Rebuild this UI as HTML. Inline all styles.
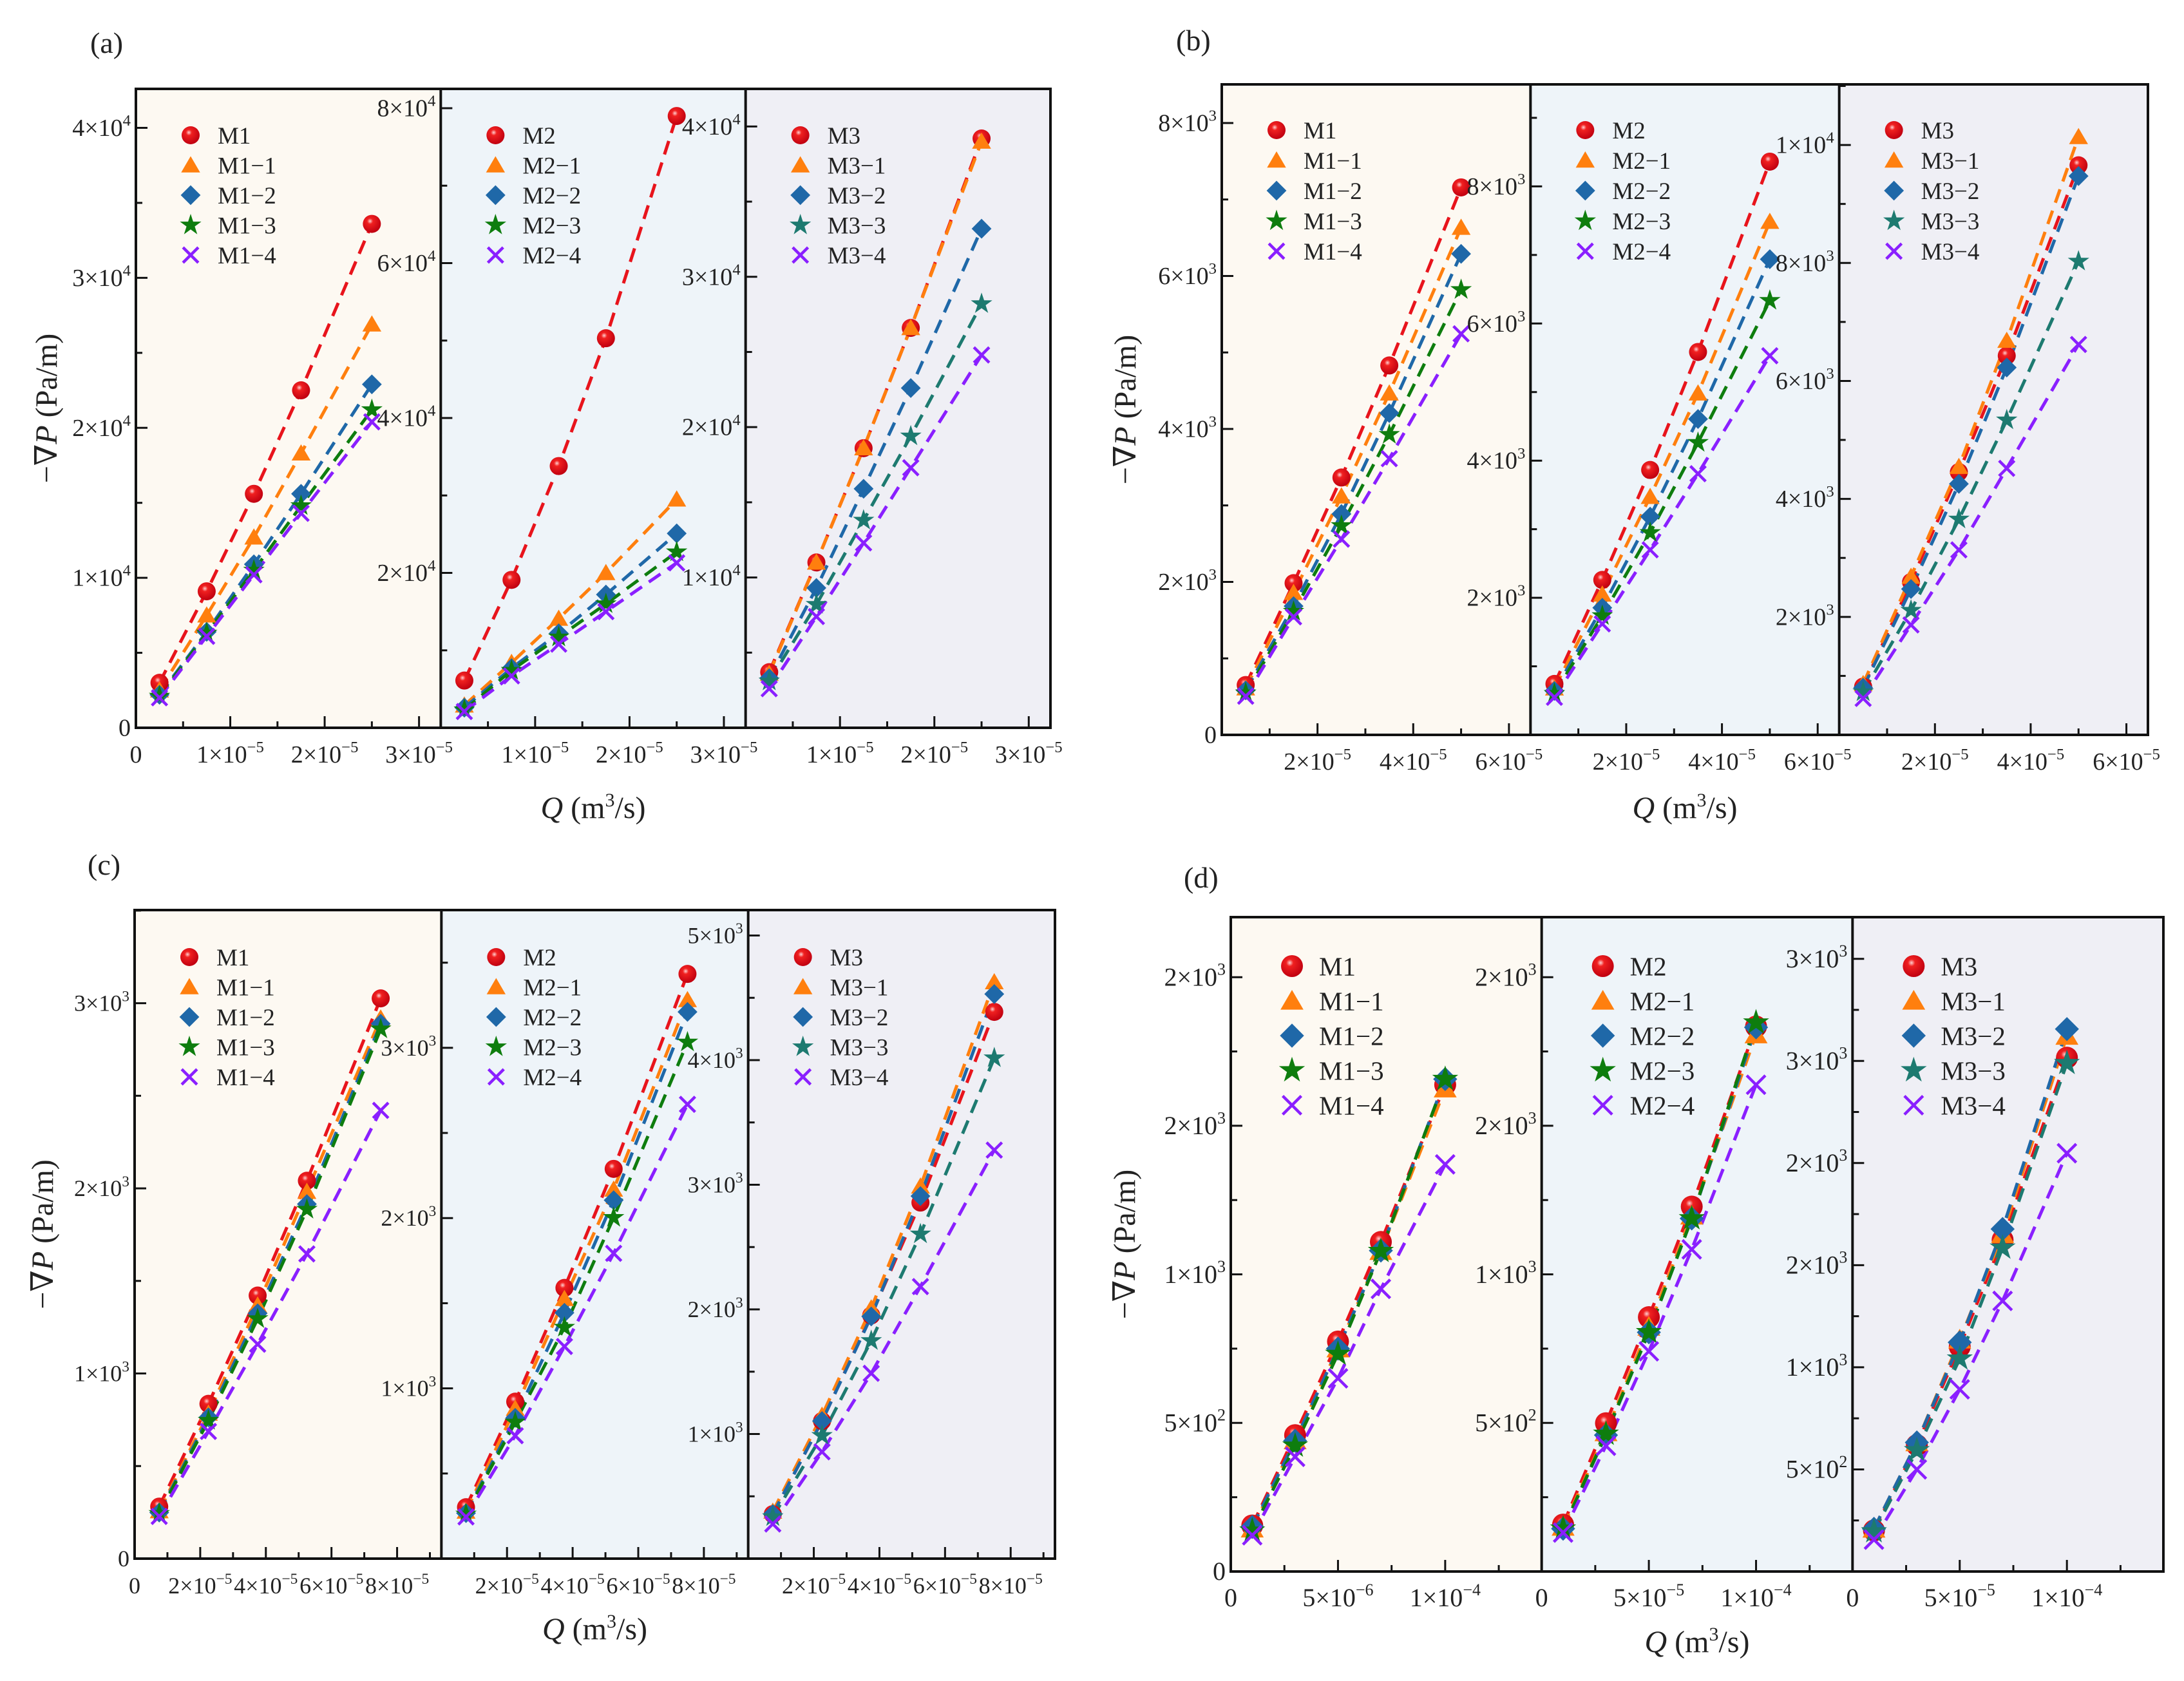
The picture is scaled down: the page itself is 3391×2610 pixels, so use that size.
<!DOCTYPE html>
<html><head><meta charset="utf-8">
<style>
html,body{margin:0;padding:0;background:#fff;}
svg{display:block;font-family:"Liberation Serif","DejaVu Serif",serif;}
</style></head>
<body>
<svg id="fig" width="3391" height="2610" viewBox="0 0 3391 2610" xmlns="http://www.w3.org/2000/svg">
<defs>
<radialGradient id="ballgrad" cx="0.4" cy="0.35" r="0.65">
<stop offset="0" stop-color="#ffd0d0"/><stop offset="0.25" stop-color="#f02020"/><stop offset="1" stop-color="#c00010"/>
</radialGradient>
</defs>
</svg>
<script>
// ---------- DATA ----------
const aX = [2.5e-6, 7.5e-6, 1.25e-5, 1.75e-5, 2.5e-5];
const a1_M1 = [3000, 9100, 15600, 22500, 33600];
const a1_M1_1 = [2500, 7500, 12700, 18300, 26900];
const a1_M1_2 = [2200, 6400, 10900, 15600, 22900];
const a1_M1_3 = [2100, 6300, 10500, 14800, 21200];
const a1_M1_4 = [2000, 6100, 10200, 14300, 20400];
const a2_M2 = [6100, 19100, 33800, 50300, 79000];
const a2_M2_1 = [2900, 8400, 14100, 20000, 29500];
const a2_M2_2 = [2600, 7700, 12200, 17200, 25100];
const a2_M2_3 = [2300, 7400, 11700, 16000, 22700];
const a2_M2_4 = [2100, 6700, 10800, 15000, 21300];
const a3_M3 = [3700, 11000, 18600, 26600, 39200];
const a3_M3_1 = [3600, 11000, 18600, 26600, 39000];
const a3_M3_2 = [3300, 9300, 15900, 22600, 33200];
const a3_M3_3 = [3100, 8200, 13800, 19400, 28200];
const a3_M3_4 = [2600, 7400, 12300, 17300, 24800];

const bX = [5e-6, 1.5e-5, 2.5e-5, 3.5e-5, 5e-5];
const b1_M1 = [652, 1984, 3365, 4830, 7158];
const b1_M1_1 = [610, 1858, 3120, 4466, 6632];
const b1_M1_2 = [582, 1683, 2888, 4207, 6289];
const b1_M1_3 = [547, 1613, 2734, 3926, 5820];
const b1_M1_4 = [505, 1543, 2559, 3611, 5244];
const b2_M2 = [743, 2260, 3864, 5585, 8361];
const b2_M2_1 = [680, 2049, 3473, 4982, 7485];
const b2_M2_2 = [641, 1854, 3183, 4607, 6938];
const b2_M2_3 = [602, 1737, 2949, 4263, 6335];
const b2_M2_4 = [548, 1619, 2699, 3809, 5530];
const b3_M3 = [818, 2591, 4455, 6427, 9655];
const b3_M3_1 = [864, 2682, 4545, 6682, 10136];
const b3_M3_2 = [800, 2473, 4255, 6227, 9473];
const b3_M3_3 = [727, 2109, 3655, 5336, 8027];
const b3_M3_4 = [618, 1864, 3136, 4518, 6618];

const cX = [7.5e-6, 2.25e-5, 3.75e-5, 5.25e-5, 7.5e-5];
const c1_M1 = [281, 836, 1421, 2041, 3026];
const c1_M1_1 = [257, 784, 1368, 1982, 2918];
const c1_M1_2 = [249, 763, 1325, 1915, 2889];
const c1_M1_3 = [243, 746, 1295, 1886, 2860];
const c1_M1_4 = [228, 687, 1158, 1646, 2421];
const c2_M2 = [302, 922, 1590, 2289, 3434];
const c2_M2_1 = [277, 881, 1526, 2168, 3281];
const c2_M2_2 = [267, 827, 1444, 2105, 3211];
const c2_M2_3 = [261, 801, 1358, 2003, 3033];
const c2_M2_4 = [245, 722, 1246, 1793, 2668];
const c3_M3 = [357, 1104, 1952, 2857, 4387];
const c3_M3_1 = [378, 1148, 2009, 2987, 4626];
const c3_M3_2 = [357, 1104, 1943, 2909, 4530];
const c3_M3_3 = [335, 987, 1748, 2604, 4017];
const c3_M3_4 = [278, 857, 1487, 2183, 3278];

const dX = [1e-5, 3e-5, 5e-5, 7e-5, 1e-4];
const d1_M1 = [155, 459, 774, 1109, 1638];
const d1_M1_1 = [144, 441, 750, 1078, 1625];
const d1_M1_2 = [150, 440, 750, 1080, 1657];
const d1_M1_3 = [137, 423, 732, 1078, 1657];
const d1_M1_4 = [122, 386, 650, 951, 1370];
const d2_M2 = [158, 499, 856, 1228, 1834];
const d2_M2_1 = [150, 468, 823, 1197, 1807];
const d2_M2_2 = [144, 459, 805, 1188, 1831];
const d2_M2_3 = [144, 463, 805, 1188, 1847];
const d2_M2_4 = [131, 423, 741, 1084, 1638];
const d3_M3 = [201, 619, 1101, 1624, 2516];
const d3_M3_1 = [209, 632, 1135, 1651, 2622];
const d3_M3_2 = [209, 632, 1122, 1677, 2656];
const d3_M3_3 = [196, 593, 1042, 1585, 2489];
const d3_M3_4 = [156, 500, 892, 1325, 2048];

// tick values & labels
const aXTicks = [0, 1e-5, 2e-5, 3e-5];
const aXLabels = ['0', '1×10^-5', '2×10^-5', '3×10^-5'];
const a1YTicks = [0, 1e4, 2e4, 3e4, 4e4];
const a1YLabels = ['0', '1×10^4', '2×10^4', '3×10^4', '4×10^4'];
const a2YTicks = [2e4, 4e4, 6e4, 8e4];
const a2YLabels = ['2×10^4', '4×10^4', '6×10^4', '8×10^4'];
const a3YTicks = [1e4, 2e4, 3e4, 4e4];
const a3YLabels = ['1×10^4', '2×10^4', '3×10^4', '4×10^4'];

const bXTicks = [2e-5, 4e-5, 6e-5];
const bXLabels = ['2×10^-5', '4×10^-5', '6×10^-5'];
const b1YTicks = [0, 2e3, 4e3, 6e3, 8e3];
const b1YLabels = ['0', '2×10^3', '4×10^3', '6×10^3', '8×10^3'];
const b2YTicks = [2e3, 4e3, 6e3, 8e3];
const b2YLabels = ['2×10^3', '4×10^3', '6×10^3', '8×10^3'];
const b3YTicks = [2e3, 4e3, 6e3, 8e3, 1e4];
const b3YLabels = ['2×10^3', '4×10^3', '6×10^3', '8×10^3', '1×10^4'];

const cXTicks = [0, 2e-5, 4e-5, 6e-5, 8e-5];
const cXLabels = ['0', '2×10^-5', '4×10^-5', '6×10^-5', '8×10^-5'];
const c1YTicks = [0, 1e3, 2e3, 3e3];
const c1YLabels = ['0', '1×10^3', '2×10^3', '3×10^3'];
const c2YTicks = [1e3, 2e3, 3e3];
const c2YLabels = ['1×10^3', '2×10^3', '3×10^3'];
const c3YTicks = [1e3, 2e3, 3e3, 4e3, 5e3];
const c3YLabels = ['1×10^3', '2×10^3', '3×10^3', '4×10^3', '5×10^3'];

const dXTicks = [0, 5e-5, 1e-4];
const d1XLabels = ['0', '5×10^-6', '1×10^-4'];
const d2XLabels = ['0', '5×10^-5', '1×10^-4'];
const d1YTicks = [0, 500, 1000, 1500, 2000];
const d1YLabels = ['0', '5×10^2', '1×10^3', '2×10^3', '2×10^3'];
const d2YTicks = [500, 1000, 1500, 2000];
const d2YLabels = ['5×10^2', '1×10^3', '2×10^3', '2×10^3'];
const d3YTicks = [500, 1000, 1500, 2000, 2500, 3000];
const d3YLabels = ['5×10^2', '1×10^3', '2×10^3', '2×10^3', '3×10^3', '3×10^3'];

// ---------- RENDER ----------
const NS = 'http://www.w3.org/2000/svg';
const svg = document.getElementById('fig');
function mk(tag, attrs, parent) {
  const e = document.createElementNS(NS, tag);
  for (const k in attrs) e.setAttribute(k, attrs[k]);
  (parent || svg).appendChild(e);
  return e;
}
function sciText(str, x, y, size, anchor, parent) {
  const t = mk('text', {x: x, y: y, 'font-size': size, 'text-anchor': anchor, fill: '#222'}, parent);
  const parts = str.split('^');
  t.appendChild(document.createTextNode(parts[0]));
  if (parts.length > 1) {
    const s = mk('tspan', {'font-size': size * 0.65, dy: -size * 0.42}, t);
    s.textContent = parts[1].replace('-', '−');
  }
  return t;
}
const COLORS = ['#e8141c', '#ff7f0e', '#1f68a8', '#0e7d0e', '#8a1fff'];
const TEAL = '#1d7a70';
function marker(kind, x, y, r, color, parent) {
  if (kind === 0) {
    mk('circle', {cx: x, cy: y, r: r, fill: 'url(#ballgrad)'}, parent);
  } else if (kind === 1) {
    mk('polygon', {points: `${x},${y - r} ${x + r * 1.05},${y + r * 0.8} ${x - r * 1.05},${y + r * 0.8}`, fill: color}, parent);
  } else if (kind === 2) {
    mk('polygon', {points: `${x},${y - r * 1.1} ${x + r * 1.1},${y} ${x},${y + r * 1.1} ${x - r * 1.1},${y}`, fill: color}, parent);
  } else if (kind === 3) {
    let pts = [];
    for (let i = 0; i < 10; i++) {
      const rr = i % 2 ? r * 0.48 : r * 1.25;
      const a = -Math.PI / 2 + i * Math.PI / 5;
      pts.push((x + rr * Math.cos(a)).toFixed(1) + ',' + (y + rr * Math.sin(a)).toFixed(1));
    }
    mk('polygon', {points: pts.join(' '), fill: color}, parent);
  } else {
    const d = r * 0.85;
    mk('path', {d: `M${x - d},${y - d}L${x + d},${y + d}M${x + d},${y - d}L${x - d},${y + d}`, stroke: color, 'stroke-width': 4.5, fill: 'none'}, parent);
  }
}
const BGS = ['#fdf9f2', '#eef4f9', '#efeff5'];

function drawPanel(P) {
  const g = mk('g', {});
  
  
  const W = (P.right - P.left) / 3;
  P.subs.forEach((S, si) => {
    const x0 = P.left + si * W, x1 = x0 + W;
    const sg = mk('g', {}, g);
    
    
    mk('rect', {x: x0, y: P.top, width: W, height: P.bottom - P.top, fill: BGS[si]}, sg);
    const sx = v => x0 + v / P.xmax * W;
    const sy = v => P.bottom - v / S.ymax * (P.bottom - P.top);
    S.series.forEach((arr, k) => {
      const col = (si === 2 && k === 3) ? TEAL : COLORS[k];
      const d = P.xs.map((xv, i) => (i ? 'L' : 'M') + sx(xv).toFixed(1) + ',' + sy(arr[i]).toFixed(1)).join('');
      const ln = mk('path', {d: d, stroke: col, 'stroke-width': 5, 'stroke-dasharray': '22 13', fill: 'none'}, sg);
      
      
    });
    S.series.forEach((arr, k) => {
      const col = (si === 2 && k === 3) ? TEAL : COLORS[k];
      const mg = mk('g', {}, sg);
      
      
      P.xs.forEach((xv, i) => marker(k, sx(xv), sy(arr[i]), P.mr, col, mg));
    });
    const lg = mk('g', {}, sg);
    
    
    S.names.forEach((nm, k) => {
      const col = (si === 2 && k === 3) ? TEAL : COLORS[k];
      const ly = P.top + P.legTop + k * P.legGap;
      marker(k, x0 + P.legX, ly, P.mr, col, lg);
      const t = mk('text', {x: x0 + P.legX + 42, y: ly + P.legFs * 0.35, 'font-size': P.legFs, fill: '#222'}, lg);
      t.textContent = nm.replace(/-/g, '−');
    });
    const xg = mk('g', {}, sg);
    
    
    for (let v = P.xminor; v < P.xmax * 0.999; v += P.xminor) {
      const major = Math.abs(v / P.xmajor - Math.round(v / P.xmajor)) < 1e-6;
      const len = major ? 18 : 10;
      mk('line', {x1: sx(v), x2: sx(v), y1: P.bottom, y2: P.bottom - len, stroke: '#111', 'stroke-width': 3}, xg);
    }
    const xl = (si === 0 || !P.xLabels2) ? P.xLabels : P.xLabels2;
    P.xTicks.forEach((v, i) => {
      if (v === 0 && si > 0 && !P.zeroAll) return;
      sciText(xl[i], sx(v), P.bottom + 54, P.tfs, 'middle', xg);
    });
    const yg = mk('g', {}, sg);
    
    
    for (let v = S.yminor; v < S.ymax; v += S.yminor) {
      const major = Math.abs(v / S.ymajor - Math.round(v / S.ymajor)) < 1e-6;
      const len = major ? 18 : 10;
      mk('line', {x1: x0, x2: x0 + len, y1: sy(v), y2: sy(v), stroke: '#111', 'stroke-width': 3}, yg);
    }
    S.yTicks.forEach((v, i) => {
      sciText(S.yLabels[i], x0 - 8, sy(v) + P.tfs * 0.33, P.tfs, 'end', yg);
    });
  });
  mk('rect', {x: P.left, y: P.top, width: P.right - P.left, height: P.bottom - P.top, fill: 'none', stroke: '#111', 'stroke-width': 4}, g);
  for (let i = 1; i < 3; i++) mk('line', {x1: P.left + i * W, x2: P.left + i * W, y1: P.top, y2: P.bottom, stroke: '#111', 'stroke-width': 4}, g);
  const pl = mk('text', {x: P.labX, y: P.labY, 'font-size': 46, fill: '#222'}, g);
  pl.textContent = '(' + P.id + ')';
  
  
  const cy = (P.top + P.bottom) / 2;
  const yt = mk('text', {x: 0, y: 0, 'font-size': 48, fill: '#222', 'text-anchor': 'middle', transform: `translate(${P.ytX},${cy}) rotate(-90)`}, g);
  yt.innerHTML = '−∇<tspan font-style="italic">P</tspan> (Pa/m)';
  
  
  const xt = mk('text', {x: (P.left + P.right) / 2, y: P.xtY, 'font-size': 48, fill: '#222', 'text-anchor': 'middle'}, g);
  xt.innerHTML = '<tspan font-style="italic">Q</tspan> (m<tspan font-size="30" dy="-18">3</tspan><tspan dy="18">/s)</tspan>';
  
  
}

const N1 = ['M1', 'M1-1', 'M1-2', 'M1-3', 'M1-4'];
const N2 = ['M2', 'M2-1', 'M2-2', 'M2-3', 'M2-4'];
const N3 = ['M3', 'M3-1', 'M3-2', 'M3-3', 'M3-4'];

drawPanel({id: 'a', left: 211, right: 1631, top: 138, bottom: 1130, xmax: 3.23e-5, xs: aX,
  xminor: 5e-6, xmajor: 1e-5, xTicks: aXTicks, xLabels: aXLabels, mr: 14, tfs: 38, legFs: 37, legX: 85, legTop: 72, legGap: 46.5,
  labX: 140, labY: 82, ytX: 88, xtY: 1270,
  subs: [
    {ymax: 42600, yminor: 5e3, ymajor: 1e4, yTicks: a1YTicks, yLabels: a1YLabels, names: N1, series: [a1_M1, a1_M1_1, a1_M1_2, a1_M1_3, a1_M1_4]},
    {ymax: 82500, yminor: 1e4, ymajor: 2e4, yTicks: a2YTicks, yLabels: a2YLabels, names: N2, series: [a2_M2, a2_M2_1, a2_M2_2, a2_M2_3, a2_M2_4]},
    {ymax: 42500, yminor: 5e3, ymajor: 1e4, yTicks: a3YTicks, yLabels: a3YLabels, names: N3, series: [a3_M3, a3_M3_1, a3_M3_2, a3_M3_3, a3_M3_4]}
  ]});

drawPanel({id: 'b', left: 1897, right: 3335, top: 131, bottom: 1141, xmax: 6.45e-5, xs: bX,
  xminor: 1e-5, xmajor: 2e-5, xTicks: bXTicks, xLabels: bXLabels, mr: 14, tfs: 38, legFs: 37, legX: 85, legTop: 71, legGap: 47,
  labX: 1826, labY: 78, ytX: 1763, xtY: 1270,
  subs: [
    {ymax: 8505, yminor: 1e3, ymajor: 2e3, yTicks: b1YTicks, yLabels: b1YLabels, names: N1, series: [b1_M1, b1_M1_1, b1_M1_2, b1_M1_3, b1_M1_4]},
    {ymax: 9488, yminor: 1e3, ymajor: 2e3, yTicks: b2YTicks, yLabels: b2YLabels, names: N2, series: [b2_M2, b2_M2_1, b2_M2_2, b2_M2_3, b2_M2_4]},
    {ymax: 11027, yminor: 1e3, ymajor: 2e3, yTicks: b3YTicks, yLabels: b3YLabels, names: N3, series: [b3_M3, b3_M3_1, b3_M3_2, b3_M3_3, b3_M3_4]}
  ]});

drawPanel({id: 'c', left: 209, right: 1638, top: 1413, bottom: 2420, xmax: 9.35e-5, xs: cX,
  xminor: 1e-5, xmajor: 2e-5, xTicks: cXTicks, xLabels: cXLabels, mr: 14, tfs: 36, legFs: 37, legX: 85, legTop: 73, legGap: 46.5,
  labX: 136, labY: 1358, ytX: 82, xtY: 2545,
  subs: [
    {ymax: 3503, yminor: 500, ymajor: 1e3, yTicks: c1YTicks, yLabels: c1YLabels, names: N1, series: [c1_M1, c1_M1_1, c1_M1_2, c1_M1_3, c1_M1_4]},
    {ymax: 3809, yminor: 500, ymajor: 1e3, yTicks: c2YTicks, yLabels: c2YLabels, names: N2, series: [c2_M2, c2_M2_1, c2_M2_2, c2_M2_3, c2_M2_4]},
    {ymax: 5204, yminor: 500, ymajor: 1e3, yTicks: c3YTicks, yLabels: c3YLabels, names: N3, series: [c3_M3, c3_M3_1, c3_M3_2, c3_M3_3, c3_M3_4]}
  ]});

drawPanel({id: 'd', left: 1911, right: 3359, top: 1424, bottom: 2440, xmax: 1.45e-4, xs: dX,
  xminor: 2.5e-5, xmajor: 5e-5, xTicks: dXTicks, xLabels: d1XLabels, xLabels2: d2XLabels, zeroAll: true, mr: 17, tfs: 40, legFs: 41, legX: 95, legTop: 76, legGap: 54,
  labX: 1838, labY: 1378, ytX: 1762, xtY: 2565,
  subs: [
    {ymax: 2202, yminor: 250, ymajor: 500, yTicks: d1YTicks, yLabels: d1YLabels, names: N1, series: [d1_M1, d1_M1_1, d1_M1_2, d1_M1_3, d1_M1_4]},
    {ymax: 2202, yminor: 250, ymajor: 500, yTicks: d2YTicks, yLabels: d2YLabels, names: N2, series: [d2_M2, d2_M2_1, d2_M2_2, d2_M2_3, d2_M2_4]},
    {ymax: 3204, yminor: 250, ymajor: 500, yTicks: d3YTicks, yLabels: d3YLabels, names: N3, series: [d3_M3, d3_M3_1, d3_M3_2, d3_M3_3, d3_M3_4]}
  ]});
</script>
</body></html>
